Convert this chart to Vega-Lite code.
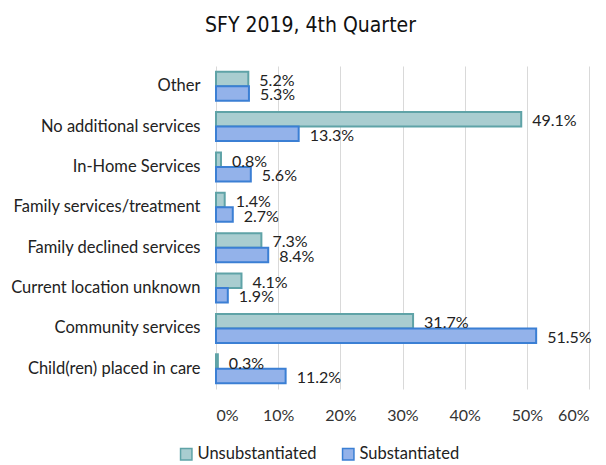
{
  "$schema": "https://vega.github.io/schema/vega-lite/v6.json",
  "width": 373,
  "height": 323,
  "autosize": {"type": "none"},
  "padding": {"left": 216, "top": 66, "right": 17, "bottom": 76},
  "background": "white",
  "title": {
    "text": "SFY 2019, 4th Quarter",
    "font": "DejaVu Sans Condensed, DejaVu Sans",
    "fontSize": 21,
    "fontWeight": "normal",
    "color": "#111111",
    "anchor": "middle",
    "dx": -92,
    "offset": 30
  },
  "config": {
    "view": {"stroke": null},
    "font": "Lato",
    "axis": {"labelFont": "Lato", "labelColor": "#333333"}
  },
  "data": {
    "values": [
      {"category": "Other", "series": "Unsubstantiated", "value": 0.052},
      {"category": "Other", "series": "Substantiated", "value": 0.053},
      {"category": "No additional services", "series": "Unsubstantiated", "value": 0.491},
      {"category": "No additional services", "series": "Substantiated", "value": 0.133},
      {"category": "In-Home Services", "series": "Unsubstantiated", "value": 0.008},
      {"category": "In-Home Services", "series": "Substantiated", "value": 0.056},
      {"category": "Family services/treatment", "series": "Unsubstantiated", "value": 0.014},
      {"category": "Family services/treatment", "series": "Substantiated", "value": 0.027},
      {"category": "Family declined services", "series": "Unsubstantiated", "value": 0.073},
      {"category": "Family declined services", "series": "Substantiated", "value": 0.084},
      {"category": "Current location unknown", "series": "Unsubstantiated", "value": 0.041},
      {"category": "Current location unknown", "series": "Substantiated", "value": 0.019},
      {"category": "Community services", "series": "Unsubstantiated", "value": 0.317},
      {"category": "Community services", "series": "Substantiated", "value": 0.515},
      {"category": "Child(ren) placed in care", "series": "Unsubstantiated", "value": 0.003},
      {"category": "Child(ren) placed in care", "series": "Substantiated", "value": 0.112}
    ]
  },
  "encoding": {
    "y": {
      "field": "category",
      "type": "nominal",
      "sort": null,
      "scale": {"paddingInner": 0.28, "paddingOuter": 0.14},
      "axis": {
        "title": null,
        "ticks": false,
        "domain": false,
        "labelFontSize": 16.5,
        "labelPadding": 16,
        "labelColor": "#222222",
        "labelLimit": 250
      }
    },
    "yOffset": {
      "field": "series",
      "type": "nominal",
      "sort": ["Unsubstantiated", "Substantiated"]
    },
    "x": {
      "field": "value",
      "type": "quantitative",
      "scale": {"domain": [0, 0.6], "nice": false},
      "axis": {
        "title": null,
        "values": [0, 0.1, 0.2, 0.3, 0.4, 0.5, 0.6],
        "format": ".0%",
        "ticks": false,
        "domain": false,
        "grid": true,
        "gridColor": "#d9d9d9",
        "gridWidth": 1,
        "labelFontSize": 16,
        "labelPadding": 18,
        "labelColor": "#333333"
      }
    }
  },
  "layer": [
    {
      "mark": {"type": "bar", "strokeWidth": 2},
      "encoding": {
        "fill": {
          "field": "series",
          "type": "nominal",
          "sort": ["Unsubstantiated", "Substantiated"],
          "scale": {"domain": ["Unsubstantiated", "Substantiated"], "range": ["#a9cdd0", "#93b2ea"]},
          "legend": {
            "title": null,
            "orient": "none",
            "direction": "horizontal",
            "legendX": -38,
            "legendY": 380,
            "symbolType": "square",
            "symbolSize": 130,
            "symbolStrokeWidth": 1.5,
            "labelFontSize": 16.5,
            "labelColor": "#222222",
            "columnPadding": 22,
            "labelOffset": 3
          }
        },
        "stroke": {
          "field": "series",
          "type": "nominal",
          "sort": ["Unsubstantiated", "Substantiated"],
          "scale": {"domain": ["Unsubstantiated", "Substantiated"], "range": ["#5fa3a7", "#3b7fd4"]},
          "legend": null
        }
      }
    },
    {
      "mark": {"type": "text", "align": "left", "baseline": "middle", "dx": 11, "dy": 2, "fontSize": 16, "color": "#222222"},
      "encoding": {
        "text": {"field": "value", "type": "quantitative", "format": ".1%"},
        "detail": {"field": "series"}
      }
    }
  ]
}
